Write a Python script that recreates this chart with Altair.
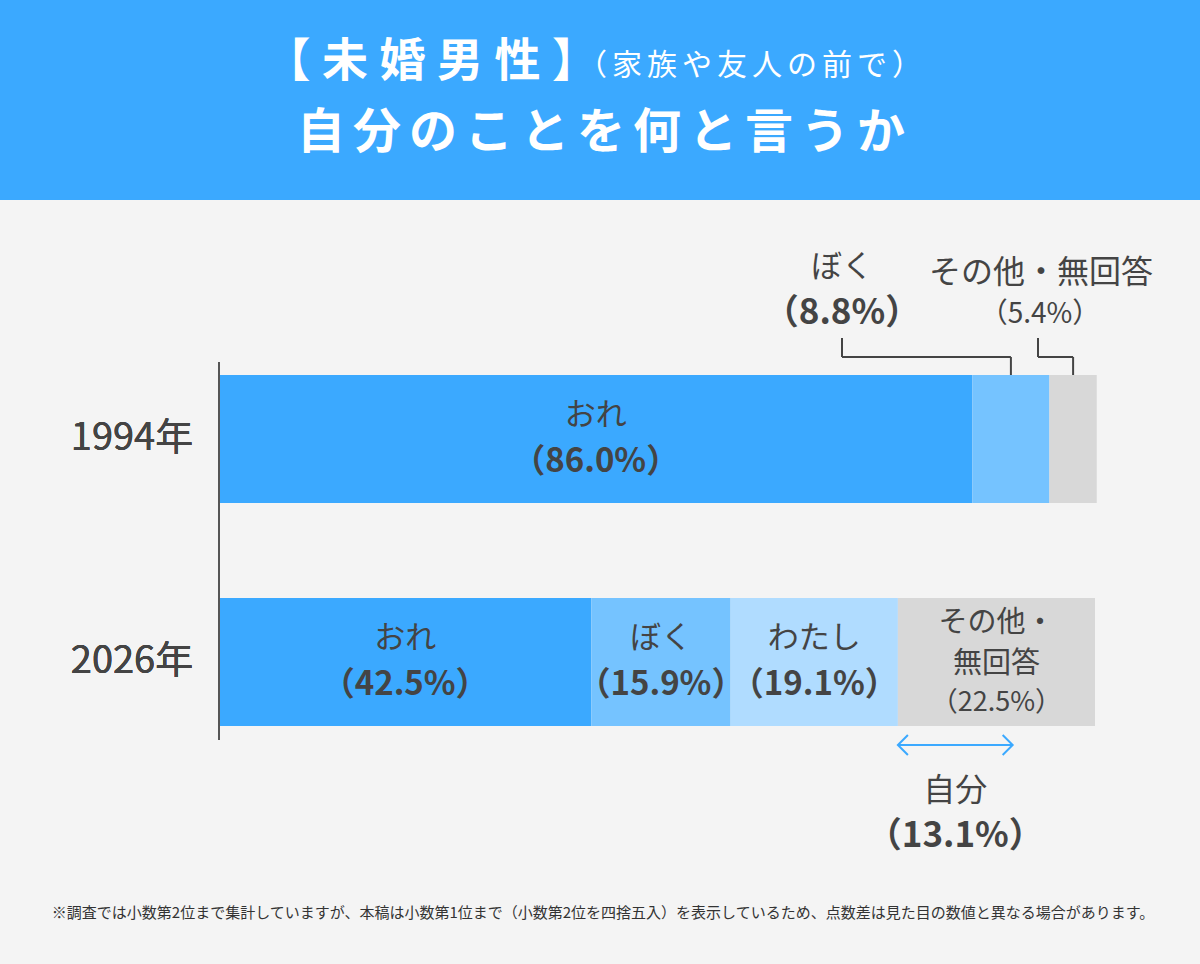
import altair as alt
import pandas as pd

# ---- data ----
years = ["1994年", "1994年", "1994年", "2026年", "2026年", "2026年", "2026年"]
categories = ["おれ", "ぼく", "その他・無回答", "おれ", "ぼく", "わたし", "その他・無回答"]
values = [86.0, 8.8, 5.4, 42.5, 15.9, 19.1, 22.5]
self_label = "自分"
self_value = 13.1
cat_order = ["おれ", "ぼく", "わたし", "その他・無回答"]
cat_colors = ["#3ba9ff", "#75c3ff", "#b0dcff", "#d8d8d8"]

title1a = "【\u2005未\u2005婚\u2005男\u2005性\u2005】"
title1b = "（\u2006家\u2006族\u2006や\u2006友\u2006人\u2006の\u2006前\u2006で\u2006）"
title2 = "\u2006".join(list("自分のことを何と言うか"))
footnote = "※調査では小数第2位まで集計していますが、本稿は小数第1位まで（小数第2位を四捨五入）を表示しているため、点数差は見た目の数値と異なる場合があります。"

FONT = "Noto Sans CJK JP"
TXT = "#444444"
BLUE = "#3ba9ff"

df = pd.DataFrame({"year": years, "cat": categories, "value": values})
df["end"] = df.groupby("year")["value"].cumsum()
df["start"] = df["end"] - df["value"]
df["mid"] = (df["start"] + df["end"]) / 2
df["pct"] = "（" + df["value"].map(lambda v: f"{v:.1f}%") + "）"
df["line1"] = df["cat"].map(lambda c: c.split("・")[0] + "・" if "・" in c else c)
df["line2"] = df["cat"].map(lambda c: c.split("・")[1] if "・" in c else "")

other26 = df[(df.year == "2026年") & (df.cat == "その他・無回答")].iloc[0]
arrow_df = pd.DataFrame({"start": [other26["start"]], "end": [other26["start"] + self_value],
                         "label": [self_label], "pct": [f"（{self_value:.1f}%）"]})
arrow_df["mid"] = (arrow_df["start"] + arrow_df["end"]) / 2

xs = alt.Scale(domain=[0, 100], range=[219, 1095])
ys = alt.Scale(domain=["1994年", "2026年"], range=[375, 726], paddingInner=0.426, paddingOuter=0)
X = lambda f: alt.X(f, scale=xs, axis=None)
Y = alt.Y("year:N", scale=ys, axis=None)

one = alt.Data(values=[{}])

header = alt.Chart(one).mark_rect(color=BLUE).encode(
    x=alt.value(0), x2=alt.value(1200), y=alt.value(0), y2=alt.value(200))
t1a = alt.Chart(one).mark_text(text=title1a, font=FONT, fontSize=46, fontWeight="bold",
                               color="white", align="right", baseline="middle").encode(
    x=alt.value(598), y=alt.value(62))
t1b = alt.Chart(one).mark_text(text=title1b, font=FONT, fontSize=30, fontWeight="normal",
                               color="white", align="left", baseline="middle").encode(
    x=alt.value(577), y=alt.value(66))
t2 = alt.Chart(one).mark_text(text=title2, font=FONT, fontSize=48, fontWeight="bold",
                              color="white", align="center", baseline="middle").encode(
    x=alt.value(601), y=alt.value(134))

axis_line = alt.Chart(one).mark_rule(color="#555555", strokeWidth=2).encode(
    x=alt.value(219), y=alt.value(362), y2=alt.value(740))

bars = alt.Chart(df).mark_bar().encode(
    x=X("start:Q"), x2="end:Q", y=Y,
    color=alt.Color("cat:N", scale=alt.Scale(domain=cat_order, range=cat_colors), legend=None))

year_lbl = alt.Chart(df).mark_text(font=FONT, fontSize=38, color=TXT, align="center",
                                   baseline="middle").encode(
    x=alt.value(132), y=Y, text="year:N")

inside = df[((df.year == "1994年") & (df.cat == "おれ")) |
            ((df.year == "2026年") & (df.cat != "その他・無回答"))]
in_name = alt.Chart(inside).mark_text(font=FONT, fontSize=31, color=TXT, dy=-23,
                                      baseline="middle").encode(x=X("mid:Q"), y=Y, text="cat:N")
in_pct = alt.Chart(inside).mark_text(font=FONT, fontSize=33, fontWeight="bold", color=TXT, dy=23,
                                     baseline="middle").encode(x=X("mid:Q"), y=Y, text="pct:N")

o26 = df[(df.year == "2026年") & (df.cat == "その他・無回答")]
o_l1 = alt.Chart(o26).mark_text(font=FONT, fontSize=29, color=TXT, dy=-39,
                                baseline="middle").encode(x=X("mid:Q"), y=Y, text="line1:N")
o_l2 = alt.Chart(o26).mark_text(font=FONT, fontSize=29, color=TXT, dy=2,
                                baseline="middle").encode(x=X("mid:Q"), y=Y, text="line2:N")
o_l3 = alt.Chart(o26).mark_text(font=FONT, fontSize=27, color=TXT, dy=41,
                                baseline="middle").encode(x=X("mid:Q"), y=Y, text="pct:N")

# 1994 outside annotations
boku94 = df[(df.year == "1994年") & (df.cat == "ぼく")]
oth94 = df[(df.year == "1994年") & (df.cat == "その他・無回答")]

def leader(d, lx):
    a = alt.Chart(d).mark_rule(color=TXT, strokeWidth=2).encode(
        x=alt.value(lx), y=alt.value(338), y2=alt.value(357))
    b = alt.Chart(d).mark_rule(color=TXT, strokeWidth=2).encode(
        x=X("mid:Q"), x2=alt.value(lx), y=alt.value(357))
    c = alt.Chart(d).mark_rule(color=TXT, strokeWidth=2).encode(
        x=X("mid:Q"), y=alt.value(357), y2=alt.value(375))
    return [a, b, c]

b_name = alt.Chart(boku94).mark_text(font=FONT, fontSize=31, color=TXT, baseline="middle").encode(
    x=alt.value(842), y=alt.value(268), text="cat:N")
b_pct = alt.Chart(boku94).mark_text(font=FONT, fontSize=35, fontWeight="bold", color=TXT,
                                    baseline="middle").encode(
    x=alt.value(842), y=alt.value(313), text="pct:N")
o_name = alt.Chart(oth94).mark_text(font=FONT, fontSize=32, color=TXT, baseline="middle").encode(
    x=alt.value(1041), y=alt.value(273), text="cat:N")
o_pct = alt.Chart(oth94).mark_text(font=FONT, fontSize=28, color=TXT, baseline="middle").encode(
    x=alt.value(1040), y=alt.value(315), text="pct:N")

# 自分 arrow
arrow_line = alt.Chart(arrow_df).mark_rule(color=BLUE, strokeWidth=2).encode(
    x=X("start:Q"), x2="end:Q", y=alt.value(745))
head_l = alt.Chart(arrow_df).mark_point(shape="M 1 -1 L 0 0 L 1 1", size=400, filled=False,
                                        color=BLUE, strokeWidth=2, opacity=1).encode(
    x=X("start:Q"), y=alt.value(745))
head_r = alt.Chart(arrow_df).mark_point(shape="M -1 -1 L 0 0 L -1 1", size=400, filled=False,
                                        color=BLUE, strokeWidth=2, opacity=1).encode(
    x=X("end:Q"), y=alt.value(745))
self_name = alt.Chart(arrow_df).mark_text(font=FONT, fontSize=32, color=TXT, baseline="middle").encode(
    x=X("mid:Q"), y=alt.value(791), text="label:N")
self_pct = alt.Chart(arrow_df).mark_text(font=FONT, fontSize=35, fontWeight="bold", color=TXT,
                                         baseline="middle").encode(
    x=X("mid:Q"), y=alt.value(836), text="pct:N")

foot = alt.Chart(one).mark_text(text=footnote, font=FONT, fontSize=15, color="#333333",
                                align="center", baseline="middle").encode(
    x=alt.value(603), y=alt.value(913))

layers = [header, t1a, t1b, t2, bars, axis_line, year_lbl, in_name, in_pct, o_l1, o_l2, o_l3,
          *leader(boku94, 842), *leader(oth94, 1038), b_name, b_pct, o_name, o_pct,
          arrow_line, head_l, head_r, self_name, self_pct, foot]

chart = alt.layer(*layers).properties(
    width=1200, height=964, padding=0, autosize=alt.AutoSizeParams(type="none"),
    background="#f4f4f4"
).configure_view(stroke=None)

chart.save("out.html", embed_options={"renderer": "svg", "actions": False})
